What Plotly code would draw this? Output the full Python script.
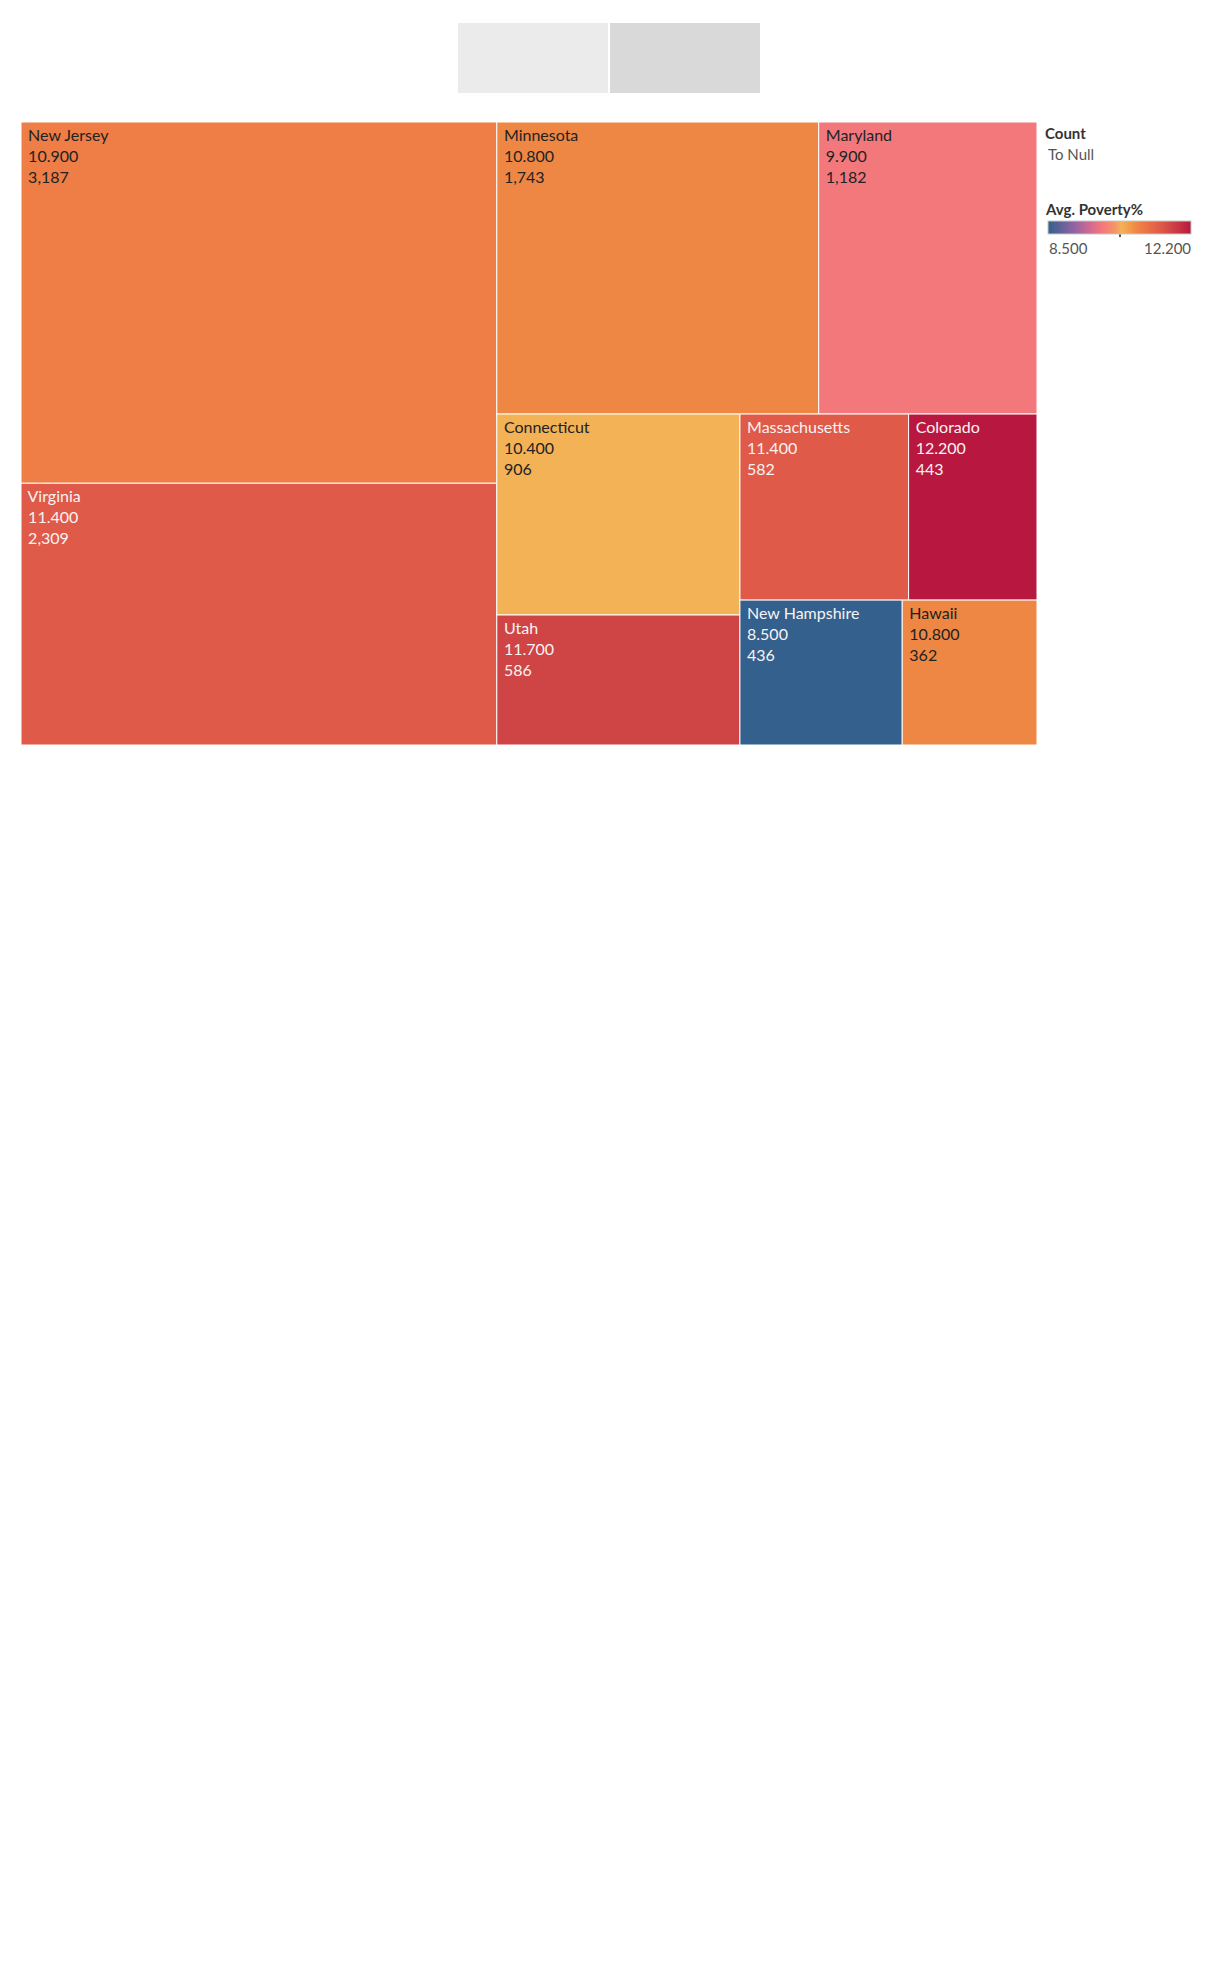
import plotly.graph_objects as go
from plotly.colors import sample_colorscale

# ---- data ----
states = ["New Jersey", "Virginia", "Minnesota", "Maryland", "Connecticut",
          "Utah", "Massachusetts", "Colorado", "New Hampshire", "Hawaii"]
counts = [3187, 2309, 1743, 1182, 906, 586, 582, 443, 436, 362]
poverty = [10.9, 11.4, 10.8, 9.9, 10.4, 11.7, 11.4, 12.2, 8.5, 10.8]
pov_min, pov_max = 8.5, 12.2
legend_tick_labels = ["8.500", "12.200"]

W, H = 1216, 1964
FONT = "Lato"

colorscale = [
    [0.0, "#33608c"], [0.18, "#8f64a3"], [0.30, "#d46a92"], [0.378, "#f3787c"],
    [0.47, "#f5946a"], [0.514, "#f4b256"], [0.622, "#ee8744"], [0.649, "#ee7d46"],
    [0.784, "#df5a49"], [0.865, "#cf4444"], [1.0, "#b8183f"],
]


def text_color(v):
    c = sample_colorscale(colorscale, [(v - pov_min) / (pov_max - pov_min)])[0]
    if c.startswith("rgb"):
        r, g, b = [float(x) for x in c[c.index("(") + 1:-1].split(",")[:3]]
    else:
        r, g, b = int(c[1:3], 16), int(c[3:5], 16), int(c[5:7], 16)
    bright = (r * 299 + g * 587 + b * 114) / 1000
    return "#222222" if bright >= 128 else "#f7f3f3"


txt_colors = [text_color(v) for v in poverty]
NB = "\u00a0"

fig = go.Figure(go.Treemap(
    labels=states,
    parents=[""] * len(states),
    values=counts,
    customdata=poverty,
    sort=True,
    tiling=dict(packing="squarify", squarifyratio=1, pad=0),
    marker=dict(
        colors=poverty,
        colorscale=colorscale,
        cmin=pov_min, cmax=pov_max,
        line=dict(color="white", width=1),
        pad=dict(t=0, l=0, r=0, b=0),
        showscale=True,
        colorbar=dict(
            orientation="h",
            xanchor="left", x=1048 / W,
            yanchor="top", y=1 - 221 / H,
            lenmode="pixels", len=143,
            thickness=13,
            xpad=0, ypad=0,
            outlinecolor="#c8c8c8", outlinewidth=1,
            tickmode="array",
            tickvals=[(pov_min + pov_max) / 2],
            ticks="outside", ticklen=3, tickwidth=2, tickcolor="#555555",
            showticklabels=False,
        ),
    ),
    texttemplate=(NB + "%{label}<br>" + NB + "%{customdata:.3f}<br>"
                  + NB + "%{value:,}"),
    textposition="top left",
    textfont=dict(family=FONT, size=16, color=txt_colors),
    hovertemplate="%{label}<br>Avg. Poverty%: %{customdata:.3f}<br>Count: %{value:,}<extra></extra>",
    pathbar=dict(visible=False),
    root=dict(color="rgba(0,0,0,0)"),
    domain=dict(x=[21 / W, 1037 / W], y=[1 - 745 / H, 1 - 122 / H]),
))

shapes = [
    dict(type="rect", xref="paper", yref="paper", x0=458 / W, x1=608 / W,
         y0=1 - 93 / H, y1=1 - 23 / H, fillcolor="#ebebeb", line=dict(width=0), layer="below"),
    dict(type="rect", xref="paper", yref="paper", x0=610 / W, x1=760 / W,
         y0=1 - 93 / H, y1=1 - 23 / H, fillcolor="#d9d9d9", line=dict(width=0), layer="below"),
]

annotations = [
    dict(text="<b>Count</b>", x=1043 / W, y=1 - 133 / H, xanchor="left", yanchor="middle",
         font=dict(family=FONT, size=15, color="#333333")),
    dict(text="To Null", x=1046 / W, y=1 - 154 / H, xanchor="left", yanchor="middle",
         font=dict(family=FONT, size=15, color="#555555")),
    dict(text="<b>Avg. Poverty%</b>", x=1043 / W, y=1 - 209 / H, xanchor="left", yanchor="middle",
         font=dict(family=FONT, size=15, color="#333333")),
    dict(text=legend_tick_labels[0], x=1047 / W, y=1 - 248 / H, xanchor="left", yanchor="middle",
         font=dict(family=FONT, size=15, color="#555555")),
    dict(text=legend_tick_labels[1], x=1193 / W, y=1 - 248 / H, xanchor="right", yanchor="middle",
         font=dict(family=FONT, size=15, color="#555555")),
]
for a in annotations:
    a.update(xref="paper", yref="paper", showarrow=False)

fig.update_layout(
    width=W, height=H,
    margin=dict(l=0, r=0, t=0, b=0),
    paper_bgcolor="white", plot_bgcolor="white",
    shapes=shapes, annotations=annotations,
    font=dict(family=FONT),
)

fig.write_html("out.html")
